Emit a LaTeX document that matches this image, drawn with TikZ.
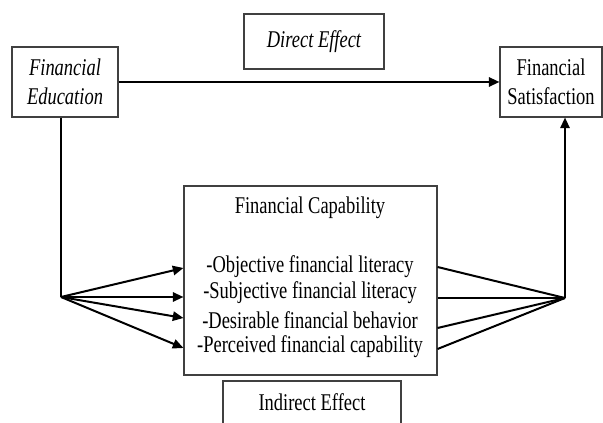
\documentclass[tikz,border=0pt]{standalone}
\usepackage{fontspec}
\setmainfont{Liberation Serif}[FakeStretch=0.77]
\usetikzlibrary{arrows.meta}
\begin{document}
\begin{tikzpicture}[x=0.75pt,y=-0.75pt,
  box/.style={draw=black!75,line width=0.8pt,inner sep=0pt,align=center,font=\fontsize{18}{21}\selectfont},
  txt/.style={inner sep=0pt,font=\fontsize{18}{21}\selectfont},
  con/.style={line width=1.5pt,black},
  arr/.style={con,-{Triangle[length=8pt,width=7pt]}}]
\clip (0,0) rectangle (603,423);
\useasboundingbox (0,0) rectangle (603,423);
\fill[white] (0,0) rectangle (603,423);
% boxes
\node[box,minimum width=79.5pt,minimum height=52.5pt] (FE) at (65,82) {\itshape Financial\\[0.6pt]\itshape Education};
\node[box,minimum width=76.5pt,minimum height=52.5pt] (FS) at (551,82) {Financial\\[0.6pt]Satisfaction};
\node[box,minimum width=105pt,minimum height=41.25pt] (DE) at (314,41.5) {\itshape Direct Effect};
\node[box,minimum width=189.75pt,minimum height=141.75pt] (FC) at (310.5,280.5) {};
\node[box,minimum width=133.5pt,minimum height=45pt] (IE) at (312,411) {};
\node[txt] (IEt) at (312,402) {Indirect Effect};
% texts in capability box
\node[txt] (t0) at (310,208) {Financial Capability};
\node[txt] (t1) at (310,267) {-Objective financial literacy};
\node[txt] (t2) at (310,293) {-Subjective financial literacy};
\node[txt] (t3) at (310,320) {-Desirable financial behavior};
\node[txt] (t4) at (310,347) {-Perceived financial capability};
% junctions
\coordinate (J1) at (61,297);
\coordinate (J2) at (565,298);
\coordinate (la) at (0,268);
\coordinate (lb) at (0,297);
\coordinate (lc) at (0,318);
\coordinate (ld) at (0,348);
\coordinate (ra) at (0,267);
\coordinate (rb) at (0,298);
\coordinate (rc) at (0,328);
\coordinate (rd) at (0,349);
% connectors
\draw[arr] (FE.east) -- (FS.west);
\draw[con] (FE.south -| J1) -- (J1);
\draw[arr] (J1) -- (FC.west |- la);
\draw[arr] (J1) -- (FC.west |- lb);
\draw[arr] (J1) -- (FC.west |- lc);
\draw[arr] (J1) -- (FC.west |- ld);
\draw[con] (FC.east |- ra) -- (J2);
\draw[con] (FC.east |- rb) -- (J2);
\draw[con] (FC.east |- rc) -- (J2);
\draw[con] (FC.east |- rd) -- (J2);
\draw[arr] (J2) -- (FS.south -| J2);
\end{tikzpicture}
\end{document}
